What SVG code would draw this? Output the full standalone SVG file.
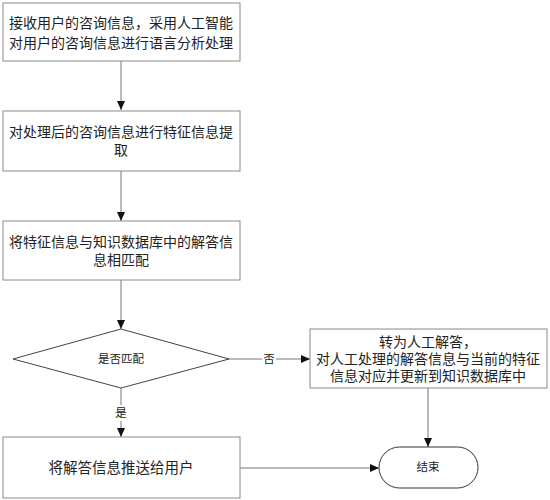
<svg xmlns="http://www.w3.org/2000/svg" width="550" height="500" viewBox="0 0 550 500">
<style>
.box{fill:#fff;stroke:#8a8a8a;stroke-width:1}
.ln{fill:none;stroke:#777;stroke-width:1}
text{font-family:"Liberation Serif","Noto Sans CJK SC",serif;fill:#222;text-anchor:middle;dominant-baseline:central}
.t14{font-size:14px}
.t11{font-size:11.5px}
</style>
<defs>
<marker id="ah" markerWidth="10" markerHeight="10" refX="9" refY="5" orient="auto" markerUnits="userSpaceOnUse">
<path d="M0,1 L9,5 L0,9 Z" fill="#111"/>
</marker>
</defs>
<rect width="550" height="500" fill="#fff"/>
<g id="connectors">
<line class="ln" x1="121" y1="61" x2="121" y2="110" marker-end="url(#ah)"/>
<line class="ln" x1="121" y1="171" x2="121" y2="221" marker-end="url(#ah)"/>
<line class="ln" x1="121" y1="280" x2="121" y2="329" marker-end="url(#ah)"/>
<line class="ln" x1="229" y1="359" x2="262" y2="359"/>
<line class="ln" x1="276" y1="359" x2="310" y2="359" marker-end="url(#ah)"/>
<line class="ln" x1="121" y1="388" x2="121" y2="405"/>
<line class="ln" x1="121" y1="421" x2="121" y2="437" marker-end="url(#ah)"/>
<line class="ln" x1="428" y1="388" x2="428" y2="447" marker-end="url(#ah)"/>
<line class="ln" x1="240" y1="468" x2="379" y2="468" marker-end="url(#ah)"/>
<text class="t11" x="269" y="359">否</text>
<text class="t11" x="121" y="413">是</text>
</g>
<g id="n1">
<rect class="box" x="3" y="3" width="237" height="58"/>
<text class="t14" x="121" y="23">接收用户的咨询信息，采用人工智能</text>
<text class="t14" x="121" y="43">对用户的咨询信息进行语言分析处理</text>
</g>
<g id="n2">
<rect class="box" x="3" y="111" width="237" height="60"/>
<text class="t14" x="121" y="132">对处理后的咨询信息进行特征信息提</text>
<text class="t14" x="121" y="150">取</text>
</g>
<g id="n3">
<rect class="box" x="3" y="221" width="237" height="59"/>
<text class="t14" x="121" y="242">将特征信息与知识数据库中的解答信</text>
<text class="t14" x="121" y="260">息相匹配</text>
</g>
<g id="n4">
<polygon class="box" points="121,329 229,359 121,388 13,359" style="stroke:#444"/>
<text class="t11" x="121" y="359">是否匹配</text>
</g>
<g id="n5">
<rect class="box" x="310" y="329" width="237" height="59"/>
<text class="t14" x="428" y="342">转为人工解答，</text>
<text class="t14" x="428" y="359">对人工处理的解答信息与当前的特征</text>
<text class="t14" x="428" y="376">信息对应并更新到知识数据库中</text>
</g>
<g id="n6">
<rect class="box" x="3" y="437" width="237" height="61"/>
<text class="t14" x="121" y="468" style="font-size:14.5px">将解答信息推送给用户</text>
</g>
<g id="n7">
<rect class="box" x="379" y="447" width="99" height="41" rx="20.5" ry="20.5" style="stroke:#333"/>
<text class="t11" x="428" y="467">结束</text>
</g>
</svg>
